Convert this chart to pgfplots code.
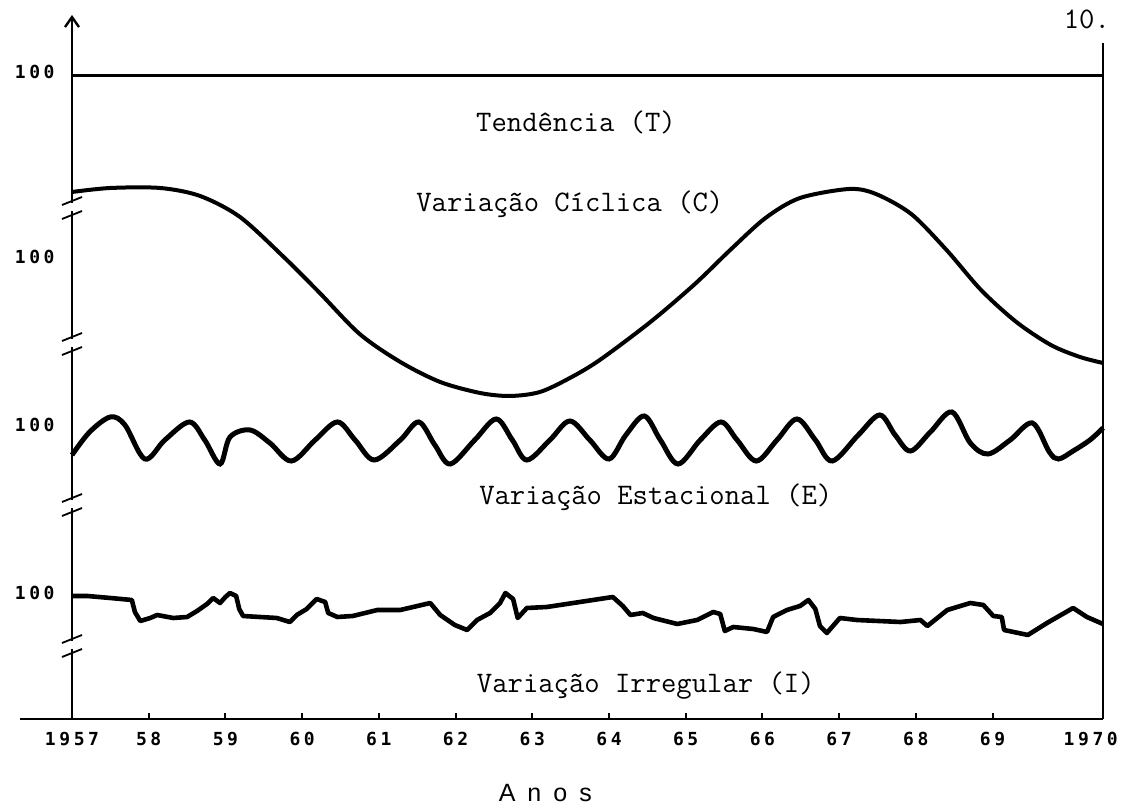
\documentclass[border=0pt]{standalone}
\usepackage{pgfplots}
\pgfplotsset{compat=1.18}
\usepackage{fontspec}
\usetikzlibrary{arrows.meta}
\newfontfamily\tickfont[LetterSpace=20]{DejaVu Sans Mono}
\newfontfamily\anosfont{Liberation Sans}
\newcommand\annotfont{\ttfamily\fontsize{14.9}{17}\selectfont}
\newcommand\tfont{\tickfont\bfseries\fontsize{9}{10}\selectfont}
\newcommand\brk[1]{%
  \fill[white] (axis cs:1957,#1) ++(-1.6pt,-2.2pt) rectangle ++(3.2pt,4.4pt);
  \draw[line width=0.9pt] (axis cs:1957,#1) ++(-5pt,-6pt) -- ++(10pt,4pt);
  \draw[line width=0.9pt] (axis cs:1957,#1) ++(-5pt,1pt) -- ++(10pt,4pt);
}
\begin{document}
\begin{tikzpicture}
\useasboundingbox (0,0) rectangle (563.5pt,403.5pt);
\begin{axis}[
  at={(36pt,44pt)}, anchor=south west,
  scale only axis, width=515.5pt, height=352pt,
  xmin=1957, xmax=1970.44, ymin=0, ymax=704,
  clip=false,
  axis line style={draw=none},
  tick pos=left,
  tick align=inside,
  major tick length=3pt,
  every tick/.style={black, line width=1pt},
  ytick=\empty,
  xtick={1957,1958,1959,1960,1961,1962,1963,1964,1965,1966,1967,1968,1969,1970.44},
  xticklabels={1957,58,59,60,61,62,63,64,65,66,67,68,69,{}},
  xticklabel style={font=\tfont, anchor=base, yshift=-13.5pt},
]
% axes
\draw[line width=1.2pt, -{Straight Barb[length=5pt,width=7pt]}] (axis cs:1957,0) -- (axis cs:1957,704);
\draw[line width=1.2pt] (axis cs:1956.32,0) -- (axis cs:1970.44,0);
\draw[line width=1pt] (axis cs:1970.44,0) -- (axis cs:1970.44,676);

% Tendencia (T)
\addplot[line width=1.5pt] coordinates {(1957,643) (1970.44,643)};

% Variacao Ciclica (C)
\addplot[line width=2pt, smooth] coordinates {
(1957.00,527) (1957.50,531) (1958.15,531) (1958.67,523) (1959.19,502)
(1959.76,462) (1960.23,426) (1960.75,385) (1961.28,357) (1961.80,337)
(1962.32,326) (1962.71,323) (1963.10,327) (1963.49,341) (1963.88,359)
(1964.54,397) (1965.12,435) (1965.58,469) (1966.04,501) (1966.49,521)
(1967.13,530) (1967.48,525) (1967.94,505) (1968.40,469) (1968.85,429)
(1969.31,397) (1969.76,374) (1970.14,362) (1970.44,356)};

% Variacao Estacional (E)
\addplot[line width=2.5pt, smooth, tension=0.55] coordinates {
(1957.00,264) (1957.23,287) (1957.50,302) (1957.69,294) (1957.95,260)
(1958.21,279) (1958.53,297) (1958.73,279) (1958.93,255) (1959.06,282)
(1959.32,289) (1959.58,276) (1959.86,258) (1960.17,279) (1960.46,297)
(1960.69,279) (1960.94,259) (1961.28,279) (1961.52,297) (1961.73,274)
(1961.93,255) (1962.25,279) (1962.53,300) (1962.74,279) (1962.93,259)
(1963.23,279) (1963.49,298) (1963.75,279) (1964.00,260) (1964.22,284)
(1964.46,303) (1964.67,279) (1964.90,255) (1965.19,279) (1965.46,297)
(1965.67,279) (1965.92,258) (1966.19,279) (1966.45,300) (1966.69,279)
(1966.91,258) (1967.25,284) (1967.53,304) (1967.73,284) (1967.93,268)
(1968.19,287) (1968.47,307) (1968.71,276) (1968.94,265) (1969.23,279)
(1969.52,296) (1969.74,267) (1969.86,260) (1970.05,268) (1970.27,279)
(1970.44,291)};

% Variacao Irregular (I)
\addplot[line width=2.3pt, line join=round] coordinates {
(1957.00,123) (1957.20,123) (1957.50,121) (1957.78,119) (1957.82,107)
(1957.89,98) (1958.02,101) (1958.11,104) (1958.32,101) (1958.50,102)
(1958.63,108) (1958.76,115) (1958.84,121) (1958.93,116) (1959.00,122)
(1959.06,126) (1959.14,123) (1959.18,110) (1959.23,103) (1959.45,102)
(1959.67,101) (1959.84,97) (1959.93,104) (1960.06,110) (1960.19,120)
(1960.30,117) (1960.34,106) (1960.46,102) (1960.66,103) (1960.98,109)
(1961.28,109) (1961.67,116) (1961.80,104) (1961.99,94) (1962.15,89)
(1962.28,99) (1962.45,106) (1962.58,116) (1962.65,126) (1962.75,120)
(1962.81,101) (1962.93,111) (1963.19,112) (1963.62,117) (1964.05,122)
(1964.18,113) (1964.28,104) (1964.44,106) (1964.58,101) (1964.89,95)
(1965.15,99) (1965.36,107) (1965.45,105) (1965.51,88) (1965.62,92)
(1965.88,90) (1966.06,87) (1966.14,102) (1966.32,109) (1966.49,113)
(1966.60,119) (1966.69,110) (1966.75,93) (1966.84,86) (1967.01,101)
(1967.23,99) (1967.80,97) (1968.06,99) (1968.15,93) (1968.41,109)
(1968.71,116) (1968.88,114) (1969.01,103) (1969.12,102) (1969.15,89)
(1969.46,84) (1969.71,96) (1970.05,111) (1970.23,102) (1970.44,95)};

% axis breaks
\brk{512}
\brk{376}
\brk{215}
\brk{74}

% "100" labels
\node[anchor=east, font=\tfont, inner sep=0pt, xshift=-8.5pt] at (axis cs:1957,647) {100};
\node[anchor=east, font=\tfont, inner sep=0pt, xshift=-8.5pt] at (axis cs:1957,462) {100};
\node[anchor=east, font=\tfont, inner sep=0pt, xshift=-8.5pt] at (axis cs:1957,294) {100};
\node[anchor=east, font=\tfont, inner sep=0pt, xshift=-8.5pt] at (axis cs:1957,126) {100};
% last year label (set left of the end tick, as in the original)
\node[anchor=base, font=\tfont, yshift=-13.5pt] at (axis cs:1970.28,0) {1970};

% annotations
\node[anchor=base, font=\annotfont] at (axis cs:1963.57,587) {Tendência (T)};
\node[anchor=base, font=\annotfont] at (axis cs:1963.49,507) {Variação Cíclica (C)};
\node[anchor=base, font=\annotfont] at (axis cs:1964.61,214) {Variação Estacional (E)};
\node[anchor=base, font=\annotfont] at (axis cs:1964.48,26) {Variação Irregular (I)};
\node[anchor=base, font={\anosfont\fontsize{12.5}{14}\selectfont}] at (axis cs:1963.17,-83) {A\hspace{6pt}n\hspace{6pt}o\hspace{6pt}s};
\node[anchor=base, font=\annotfont, inner sep=0pt] at (axis cs:1970.23,690) {10.};
\end{axis}
\end{tikzpicture}
\end{document}
